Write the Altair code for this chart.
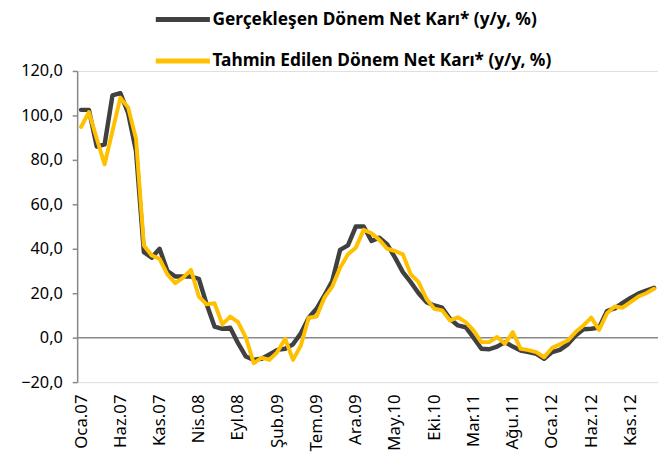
import altair as alt
import pandas as pd

month_abbr = ["Oca", "Şub", "Mar", "Nis", "May", "Haz", "Tem", "Ağu", "Eyl", "Eki", "Kas", "Ara"]
periods = [f"{month_abbr[i % 12]}.{7 + i // 12:02d}" for i in range(74)]
tick_labels = periods[::5]

series_actual = "Gerçekleşen Dönem Net Karı* (y/y, %)"
series_forecast = "Tahmin Edilen Dönem Net Karı* (y/y, %)"

actual = [
    102.5, 102.5, 86, 87, 109, 110, 101, 84, 38.5, 36,
    40, 30, 27.5, 27.5, 27.5, 26.5, 15, 5, 4, 4.5,
    -2.5, -8.5, -10, -9.5, -7.5, -5.5, -5, -3, 2, 9,
    13, 19, 25.5, 39.5, 41.5, 50, 50, 43.5, 45, 42,
    36, 29.5, 25, 20, 16, 14.5, 13.5, 8.5, 5.5, 4.7,
    0, -5, -5.2, -4, -2, -4, -5.8, -6.5, -7.3, -9.5,
    -6.5, -5.5, -3, 1, 3.8, 4, 4.5, 12, 13.2, 15.7,
    17.9, 19.8, 21.2, 22.4,
]
forecast = [
    94.8, 101.5, 89.5, 78, 93, 108, 103.5, 89.5, 41.5, 37,
    35.5, 28.5, 24.5, 27, 30.5, 18.5, 15, 15.5, 6, 9.5,
    7, 0, -11.5, -9, -10, -6.5, -0.5, -10, -3.5, 9,
    9.5, 18, 23, 31.5, 37.5, 40.5, 48.5, 47, 44, 40,
    39, 37.5, 28.5, 25, 17.5, 13, 12.3, 7.7, 9.2, 7,
    3.3, -2, -2, 0.3, -2.7, 2.5, -5, -5.6, -6.5, -8.8,
    -4.6, -3, -1.3, 2.5, 5.5, 9, 3.5, 11, 14, 13.5,
    16, 18.5, 20, 22,
]
y_ticks = [-20, 0, 20, 40, 60, 80, 100, 120]

df = pd.DataFrame({
    "donem": periods * 2,
    "deger": actual + forecast,
    "seri": [series_actual] * len(periods) + [series_forecast] * len(periods),
})

x_enc = alt.X(
    "donem:O",
    sort=periods,
    scale=alt.Scale(type="point", padding=0.5, domain=periods),
    axis=alt.Axis(
        values=tick_labels, labelAngle=270, domain=False, ticks=False,
        title=None, labelFontSize=17, labelColor="#000", labelPadding=12,
    ),
)
y_enc = alt.Y(
    "deger:Q",
    scale=alt.Scale(domain=[-20, 120], nice=False, zero=False),
    axis=alt.Axis(
        values=y_ticks, grid=False, title=None,
        labelExpr="replace(format(datum.value, '.1f'), '.', ',')",
        domainColor="#888888", domainWidth=1.5, tickColor="#888888",
        tickWidth=1.5, tickSize=5, labelFontSize=16.5, labelColor="#000",
        labelPadding=10,
    ),
)
color_enc = alt.Color(
    "seri:N",
    scale=alt.Scale(domain=[series_actual, series_forecast], range=["#404040", "#FFC000"]),
    legend=alt.Legend(
        title=None, orient="none", legendX=77, legendY=-82,
        symbolType="stroke", symbolSize=3000, symbolStrokeWidth=5,
        labelFontSize=17.5, labelFontWeight="bold", labelColor="#000",
        labelOffset=0, rowPadding=2, padding=0, labelLimit=0,
    ),
)

zero_rule = alt.Chart(pd.DataFrame({"y": [0]})).mark_rule(
    color="#888888", strokeWidth=1.5
).encode(y="y:Q")

line_actual = alt.Chart(df).transform_filter(
    alt.datum.seri == series_actual
).mark_line(strokeWidth=4.5, strokeJoin="round", strokeCap="round").encode(
    x=x_enc, y=y_enc, color=color_enc
)
line_forecast = alt.Chart(df).transform_filter(
    alt.datum.seri == series_forecast
).mark_line(strokeWidth=4, strokeJoin="round", strokeCap="round").encode(
    x=x_enc, y=y_enc, color=color_enc
)

chart = alt.layer(zero_rule, line_actual, line_forecast).properties(
    width=588,
    height=315,
    padding={"left": 70, "top": 61, "right": 0, "bottom": 68},
    autosize=alt.AutoSizeParams(type="none"),
).configure_view(stroke=None).configure(font="Noto Sans")

chart.save("out.html", embed_options={"renderer": "svg", "actions": False})
